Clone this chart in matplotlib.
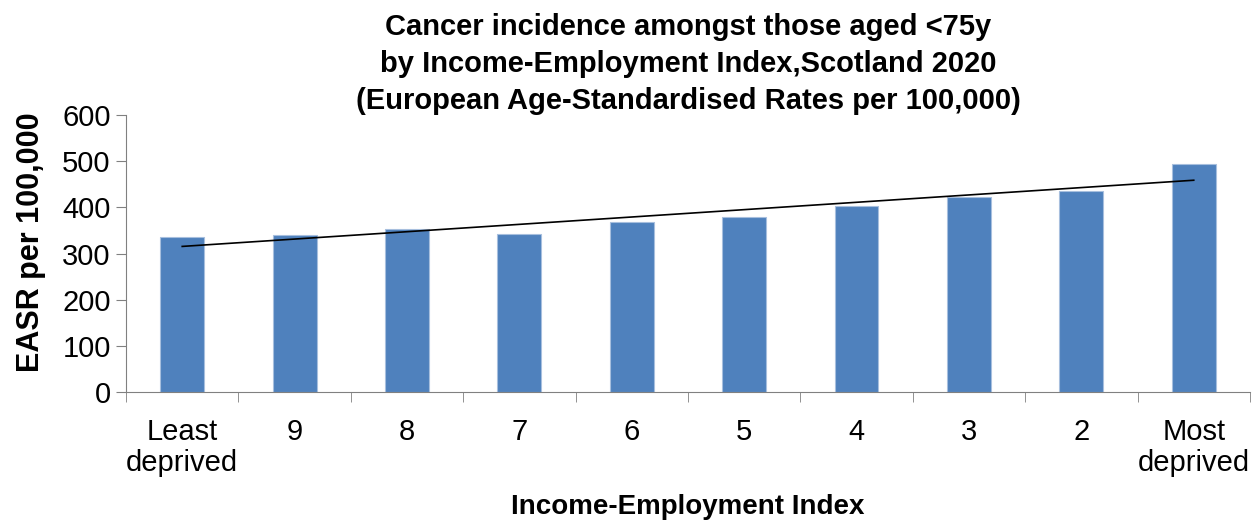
import numpy as np
import matplotlib
matplotlib.use("Agg")
import matplotlib.pyplot as plt

categories = ["Least\ndeprived", "9", "8", "7", "6", "5", "4", "3", "2", "Most\ndeprived"]
easr = [335, 340, 353, 342, 368, 380, 402, 423, 435, 493]

plt.rcParams['font.family'] = ['Liberation Sans', 'DejaVu Sans']

fig = plt.figure(figsize=(12.59, 5.23), dpi=100)
ax = fig.add_axes([0.1001, 0.2505, 0.8927, 0.5295])

x = np.arange(1, len(easr) + 1)
ax.bar(x, easr, width=0.39, color='#4f81bd', edgecolor='#a7bfde', linewidth=0.8, zorder=2)

# linear trendline, like excel
coef = np.polyfit(x, easr, 1)
ax.plot(x, np.polyval(coef, x), color='black', linewidth=1.2, zorder=3)

ax.set_xlim(0.5, len(easr) + 0.5)
ax.set_ylim(0, 600)
ax.set_yticks(range(0, 601, 100))
ax.set_xticks(x)
ax.set_xticklabels(categories, fontsize=21, linespacing=1.1)
ax.set_xticks(np.arange(0.5, len(easr) + 1, 1), minor=True)
ax.tick_params(axis='x', which='major', length=0, pad=19)
ax.tick_params(axis='x', which='minor', length=7, direction='out', color='#808080')
ax.tick_params(axis='y', labelsize=21, length=7, direction='out', color='#808080', pad=4)
for s in ['top', 'right']:
    ax.spines[s].set_visible(False)
for s in ['left', 'bottom']:
    ax.spines[s].set_color('#808080')

ax.set_ylabel('EASR per 100,000', fontsize=22, fontweight='bold')
ax.yaxis.set_label_coords(-0.071, 0.54)
ax.set_xlabel('Income-Employment Index', fontsize=20, fontweight='bold')
ax.xaxis.set_label_coords(0.5, -0.37)
ax.set_title('Cancer incidence amongst those aged <75y\nby Income-Employment Index,Scotland 2020\n'
             '(European Age-Standardised Rates per 100,000)',
             fontsize=21, fontweight='bold', linespacing=1.4, pad=4)

fig.savefig('out.png', dpi=100)
